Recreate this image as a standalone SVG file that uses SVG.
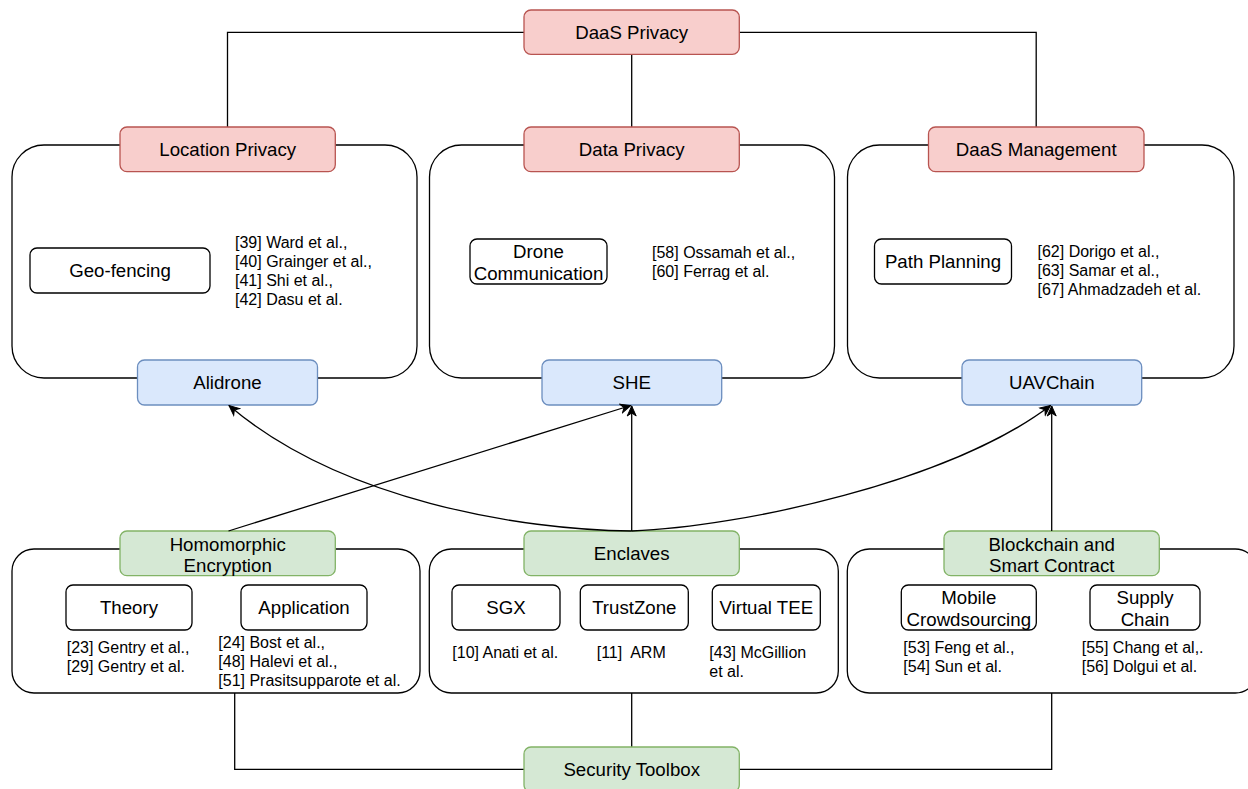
<svg xmlns="http://www.w3.org/2000/svg" width="1248" height="789" viewBox="0 0 1248 789">
  <style>
    text { font-family: "Liberation Sans", Arial, sans-serif; fill: #000; }
    .lbl { font-size: 18.67px; text-anchor: middle; }
    .cite { font-size: 16px; }
    .group { fill: #fff; stroke: #000; stroke-width: 1.3; }
    .item { fill: #fff; stroke: #000; stroke-width: 1.3; }
    .red { fill: #f8cecc; stroke: #b85450; stroke-width: 1.3; }
    .blue { fill: #dae8fc; stroke: #6c8ebf; stroke-width: 1.3; }
    .green { fill: #d5e8d4; stroke: #82b366; stroke-width: 1.3; }
    .edge { fill: none; stroke: #000; stroke-width: 1.3; }
  </style>
  <defs>
    <marker id="arrow" markerUnits="userSpaceOnUse" markerWidth="12" markerHeight="12" refX="11" refY="6" orient="auto">
      <path d="M1,1.5 L11,6 L1,10.5 L4,6 Z" fill="#000" stroke="#000" stroke-width="1"/>
    </marker>
  </defs>
  <rect width="1248" height="789" fill="#fff"/>

  <!-- tree lines behind the nodes -->
  <g id="tree-lines">
    <path class="edge" d="M524,32.3 H227.5 V127"/>
    <path class="edge" d="M739.3,32.3 H1036.2 V127"/>
    <path class="edge" d="M631.7,54.3 V127"/>
    <path class="edge" d="M631.7,693 V747"/>
    <path class="edge" d="M234.7,693 V769.3 H524"/>
    <path class="edge" d="M739.3,769.3 H1051.7 V693"/>
  </g>

  <!-- privacy areas -->
  <g id="location-privacy-area">
    <rect class="group" x="12" y="145" width="405" height="233" rx="32"/>
    <rect class="item" x="30" y="248" width="180" height="45" rx="7"/>
    <text class="lbl" x="120" y="277">Geo-fencing</text>
    <text class="cite" x="235" y="248.3">
      <tspan x="235">[39] Ward et al.,</tspan>
      <tspan x="235" dy="19">[40] Grainger et al.,</tspan>
      <tspan x="235" dy="19">[41] Shi et al.,</tspan>
      <tspan x="235" dy="19">[42] Dasu et al.</tspan>
    </text>
  </g>
  <g id="data-privacy-area">
    <rect class="group" x="429.5" y="145" width="405" height="233" rx="32"/>
    <rect class="item" x="470" y="239" width="137" height="45" rx="7"/>
    <text class="lbl" x="538.5" y="257.5">Drone</text>
    <text class="lbl" x="538.5" y="279.5">Communication</text>
    <text class="cite" x="652" y="258.3">
      <tspan x="652">[58] Ossamah et al.,</tspan>
      <tspan x="652" dy="19">[60] Ferrag et al.</tspan>
    </text>
  </g>
  <g id="management-area">
    <rect class="group" x="847.5" y="145" width="386.5" height="233" rx="32"/>
    <rect class="item" x="874.5" y="239" width="137" height="45" rx="7"/>
    <text class="lbl" x="943" y="268">Path Planning</text>
    <text class="cite" x="1037.5" y="257.3">
      <tspan x="1037.5">[62] Dorigo et al.,</tspan>
      <tspan x="1037.5" dy="19">[63] Samar et al.,</tspan>
      <tspan x="1037.5" dy="19">[67] Ahmadzadeh et al.</tspan>
    </text>
  </g>

  <!-- toolbox areas -->
  <g id="homomorphic-area">
    <rect class="group" x="12" y="549" width="408" height="144" rx="22"/>
    <rect class="item" x="66" y="585" width="126" height="45" rx="7"/>
    <text class="lbl" x="129" y="614">Theory</text>
    <rect class="item" x="241" y="585" width="126" height="45" rx="7"/>
    <text class="lbl" x="304" y="614">Application</text>
    <text class="cite" x="66.7" y="653.3">
      <tspan x="66.7">[23] Gentry et al.,</tspan>
      <tspan x="66.7" dy="19">[29] Gentry et al.</tspan>
    </text>
    <text class="cite" x="218.3" y="648.3">
      <tspan x="218.3">[24] Bost et al.,</tspan>
      <tspan x="218.3" dy="19">[48] Halevi et al.,</tspan>
      <tspan x="218.3" dy="19">[51] Prasitsupparote et al.</tspan>
    </text>
  </g>
  <g id="enclaves-area">
    <rect class="group" x="429.3" y="549" width="409" height="144" rx="22"/>
    <rect class="item" x="452" y="585" width="108" height="45" rx="7"/>
    <text class="lbl" x="506" y="614">SGX</text>
    <rect class="item" x="580.3" y="585" width="108" height="45" rx="7"/>
    <text class="lbl" x="634.3" y="614">TrustZone</text>
    <rect class="item" x="712.3" y="585" width="108" height="45" rx="7"/>
    <text class="lbl" x="766.3" y="614">Virtual TEE</text>
    <text class="cite" x="452.3" y="658.3">[10] Anati et al.</text>
    <text class="cite" x="596.7" y="658.3" xml:space="preserve">[11]  ARM</text>
    <text class="cite" x="709.3" y="658.3">
      <tspan x="709.3">[43] McGillion</tspan>
      <tspan x="709.3" dy="19">et al.</tspan>
    </text>
  </g>
  <g id="blockchain-area">
    <rect class="group" x="847.3" y="549" width="410" height="144" rx="22"/>
    <rect class="item" x="901.3" y="585" width="135" height="45" rx="7"/>
    <text class="lbl" x="968.8" y="603.8">Mobile</text>
    <text class="lbl" x="968.8" y="625.8">Crowdsourcing</text>
    <rect class="item" x="1090" y="585" width="110" height="45" rx="7"/>
    <text class="lbl" x="1145" y="603.8">Supply</text>
    <text class="lbl" x="1145" y="625.8">Chain</text>
    <text class="cite" x="903.3" y="653.3">
      <tspan x="903.3">[53] Feng et al.,</tspan>
      <tspan x="903.3" dy="19">[54] Sun et al.</tspan>
    </text>
    <text class="cite" x="1081.7" y="653.3">
      <tspan x="1081.7">[55] Chang et al,.</tspan>
      <tspan x="1081.7" dy="19">[56] Dolgui et al.</tspan>
    </text>
  </g>

  <!-- category labels -->
  <g id="daas-privacy">
    <rect class="red" x="524" y="10" width="215.3" height="44.3" rx="7"/>
    <text class="lbl" x="631.7" y="38.5">DaaS Privacy</text>
  </g>
  <g id="location-privacy">
    <rect class="red" x="120" y="127" width="215.3" height="44.7" rx="7"/>
    <text class="lbl" x="227.7" y="155.8">Location Privacy</text>
  </g>
  <g id="data-privacy">
    <rect class="red" x="524" y="127" width="215.3" height="44.7" rx="7"/>
    <text class="lbl" x="631.7" y="155.8">Data Privacy</text>
  </g>
  <g id="daas-management">
    <rect class="red" x="928.5" y="127" width="215.5" height="44.7" rx="7"/>
    <text class="lbl" x="1036.2" y="155.8">DaaS Management</text>
  </g>
  <g id="alidrone">
    <rect class="blue" x="137.5" y="360" width="180" height="45" rx="7"/>
    <text class="lbl" x="227.5" y="389">Alidrone</text>
  </g>
  <g id="she">
    <rect class="blue" x="542" y="360" width="179.7" height="45" rx="7"/>
    <text class="lbl" x="631.8" y="389">SHE</text>
  </g>
  <g id="uavchain">
    <rect class="blue" x="962" y="360" width="179.7" height="45" rx="7"/>
    <text class="lbl" x="1051.8" y="389">UAVChain</text>
  </g>
  <g id="homomorphic-encryption">
    <rect class="green" x="120" y="531" width="215.3" height="44.7" rx="7"/>
    <text class="lbl" x="227.7" y="550.5">Homomorphic</text>
    <text class="lbl" x="227.7" y="572.2">Encryption</text>
  </g>
  <g id="enclaves">
    <rect class="green" x="524" y="531" width="215.3" height="44.7" rx="7"/>
    <text class="lbl" x="631.7" y="560">Enclaves</text>
  </g>
  <g id="blockchain">
    <rect class="green" x="944" y="531" width="215.3" height="44.7" rx="7"/>
    <text class="lbl" x="1051.7" y="550.5">Blockchain and</text>
    <text class="lbl" x="1051.7" y="572.2">Smart Contract</text>
  </g>
  <g id="security-toolbox">
    <rect class="green" x="524" y="747" width="215.3" height="45" rx="7"/>
    <text class="lbl" x="631.7" y="776">Security Toolbox</text>
  </g>

  <!-- arrows from toolbox techniques to deployed systems -->
  <g id="connectors">
    <path class="edge" d="M631.7,531 V406" marker-end="url(#arrow)"/>
    <path class="edge" d="M1051.7,531 V406" marker-end="url(#arrow)"/>
    <path class="edge" d="M228.5,531 L630.7,405.5" marker-end="url(#arrow)"/>
    <path class="edge" d="M631.7,531 C520,530 340,500 229,405.5" marker-end="url(#arrow)"/>
    <path class="edge" d="M631.7,531 C740,527 950,482 1050.5,405.5" marker-end="url(#arrow)"/>
  </g>
</svg>
